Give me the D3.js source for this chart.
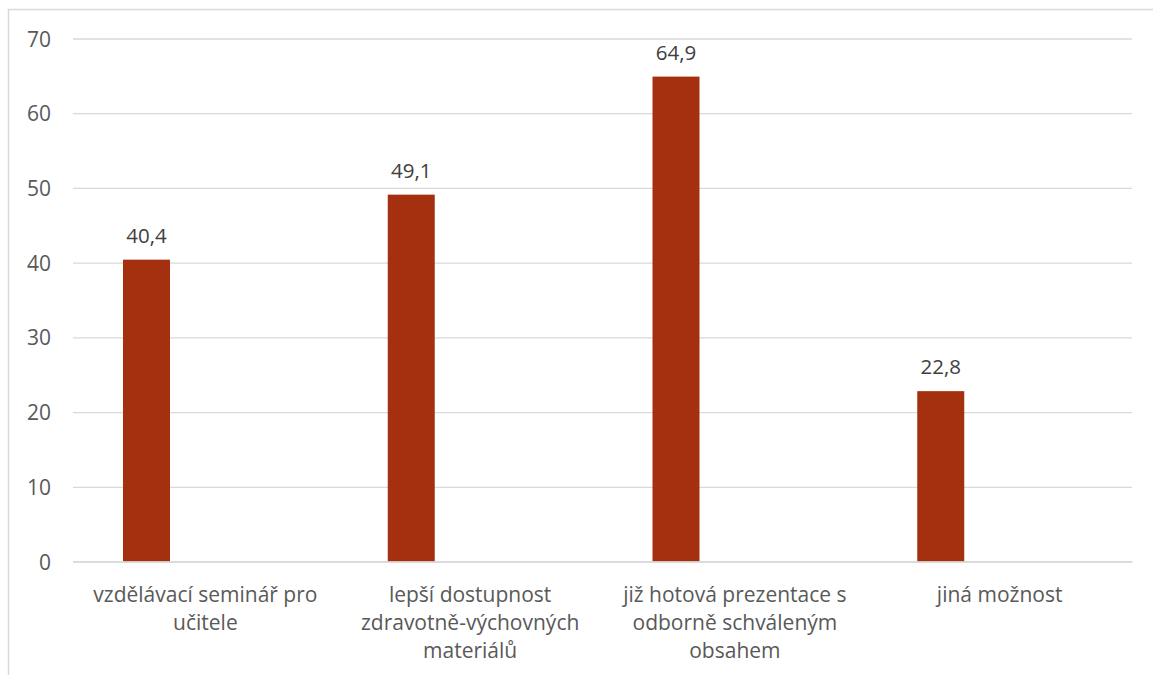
<!DOCTYPE html>
<html><head><meta charset="utf-8">
<script src="https://cdn.jsdelivr.net/npm/d3@7"></script>
<style>body{margin:0;background:#fff}svg{display:block}</style>
</head><body>
<svg id="c" width="1153" height="675"></svg>
<script>
const categories = ["vzdělávací seminář pro\nučitele", "lepší dostupnost\nzdravotně-výchovných\nmateriálů", "již hotová prezentace s\nodborně schváleným\nobsahem", "jiná možnost"];
const values = [40.4, 49.1, 64.9, 22.8];
const valueLabels = ["40,4", "49,1", "64,9", "22,8"];
const yTicks = [0, 10, 20, 30, 40, 50, 60, 70];

const svg = d3.select("#c");
const font = "'Open Sans', sans-serif";
const textColor = "#595959";

svg.append("rect").attr("x", 8.5).attr("y", 9.5).attr("width", 1200).attr("height", 700)
  .attr("fill", "none").attr("stroke", "#d9d9d9").attr("stroke-width", 1.5);

const x = d3.scaleBand().domain(categories).range([73, 1132]).paddingInner(0).paddingOuter(0);
const y = d3.scaleLinear().domain([0, 70]).range([561.5, 38.5]);

const yAxis = d3.axisLeft(y).tickValues(yTicks).tickSize(-(1132 - 73)).tickPadding(22);
const gy = svg.append("g").attr("transform", "translate(73,0)").call(yAxis);
gy.select(".domain").remove();
gy.selectAll(".tick line").attr("stroke", "#d9d9d9").attr("stroke-width", 1.3);
gy.selectAll(".tick text").attr("fill", textColor).attr("dy", "0.36em")
  .style("font-family", font).style("font-size", "21px");

const barW = 47, barOff = 50;
svg.append("g").selectAll("rect").data(values).join("rect")
  .attr("x", (d, i) => x(categories[i]) + barOff)
  .attr("y", d => y(d))
  .attr("width", barW)
  .attr("height", d => y(0) - y(d))
  .attr("fill", "#A5300F");

svg.append("g").selectAll("text").data(values).join("text")
  .attr("x", (d, i) => x(categories[i]) + barOff + barW / 2)
  .attr("y", d => y(d) - 17)
  .attr("text-anchor", "middle")
  .attr("fill", "#404040")
  .style("font-family", font).style("font-size", "20.5px")
  .text((d, i) => valueLabels[i]);

const xAxis = d3.axisBottom(x).tickSize(0).tickFormat("");
const gx = svg.append("g").attr("transform", `translate(0,${y(0)})`).call(xAxis);
gx.select(".domain").attr("stroke", "#d9d9d9").attr("stroke-width", 1.3);
gx.selectAll(".tick").each(function(d) {
  const t = d3.select(this).append("text")
    .attr("text-anchor", "middle").attr("fill", textColor)
    .style("font-family", font).style("font-size", "21px");
  d.split("\n").forEach((line, i) => {
    t.append("tspan").attr("x", 0).attr("y", 40.5 + i * 28).text(line);
  });
});
</script>
</body></html>
